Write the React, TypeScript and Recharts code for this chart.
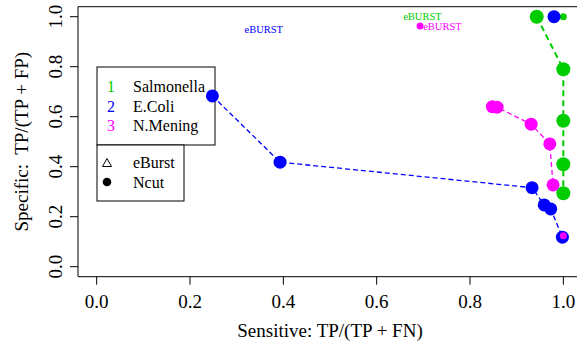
import React from 'react';
import { ScatterChart, Scatter, XAxis, YAxis, ReferenceArea, Customized } from 'recharts';

const FONT = '"Liberation Serif", "Times New Roman", serif';
const BLUE = '#0000FF';
const GREEN = '#00CD00';
const PINK = '#FF00FF';

const xTicks = [0, 0.2, 0.4, 0.6, 0.8, 1.0];
const yTicks = [0, 0.2, 0.4, 0.6, 0.8, 1.0];

// Ncut curves (connected by dashed lines)
const ecoliNcut = [
  { x: 0.248, y: 0.683 },
  { x: 0.393, y: 0.418 },
  { x: 0.933, y: 0.316 },
  { x: 0.959, y: 0.247 },
  { x: 0.973, y: 0.231 },
  { x: 0.998, y: 0.118 },
];
const salmNcut = [
  { x: 0.943, y: 1.0 },
  { x: 1.0, y: 0.79 },
  { x: 1.0, y: 0.584 },
  { x: 1.0, y: 0.41 },
  { x: 1.0, y: 0.294 },
];
const meningNcut = [
  { x: 0.848, y: 0.64 },
  { x: 0.858, y: 0.638 },
  { x: 0.931, y: 0.57 },
  { x: 0.971, y: 0.491 },
  { x: 0.978, y: 0.327 },
];
// single points
const ecoliSingle = [{ x: 0.98, y: 1.0 }];
const salmSmall = [{ x: 1.0, y: 1.0 }];
const meningSmall = [
  { x: 1.0, y: 0.124 },
  { x: 0.693, y: 0.963 },
];
// eBURST text labels
const eburstLabels = [
  { x: 0.698, y: 1.0, text: 'eBURST', color: GREEN },
  { x: 0.741, y: 0.963, text: 'eBURST', color: PINK },
  { x: 0.358, y: 0.95, text: 'eBURST', color: BLUE },
];

const groupNames = ['Salmonella', 'E.Coli', 'N.Mening'];
const groupColors = [GREEN, BLUE, PINK];
const methodNames = ['eBurst', 'Ncut'];

const dot = (r: number, fill: string) => (props: any) =>
  <circle cx={props.cx} cy={props.cy} r={r} fill={fill} />;

const labelShape = (props: any) => (
  <text x={props.cx} y={props.cy} dy="0.35em" textAnchor="middle" fontSize={10.5}
    fontFamily={FONT} fill={props.payload.color}>{props.payload.text}</text>
);

const XTick = (props: any) => (
  <text x={props.x} y={props.y + 21} textAnchor="middle" fontSize={19} fontFamily={FONT} fill="#000">
    {Number(props.payload.value).toFixed(1)}
  </text>
);

const YTick = (props: any) => {
  const bx = props.x - 8;
  return (
    <text x={bx} y={props.y} transform={`rotate(-90, ${bx}, ${props.y})`} textAnchor="middle"
      fontSize={19} fontFamily={FONT} fill="#000">
      {Number(props.payload.value).toFixed(1)}
    </text>
  );
};

const Decor = () => (
  <g fontFamily={FONT}>
    <text x={330} y={337} textAnchor="middle" fontSize={19} fill="#000">Sensitive: TP/(TP + FN)</text>
    <text x={28} y={141.7} transform="rotate(-90, 28, 141.7)" textAnchor="middle" fontSize={19}
      fill="#000" style={{ whiteSpace: 'pre' }}>{'Specific:  TP/(TP + FP)'}</text>
    <rect x={97} y={67} width={118} height={78} fill="#fff" stroke="#000" strokeWidth={1} />
    {groupNames.map((n, i) => (
      <g key={n}>
        <text x={111} y={92 + i * 19.5} textAnchor="middle" fontSize={16} fill={groupColors[i]}>{i + 1}</text>
        <text x={133} y={92 + i * 19.5} fontSize={16} fill="#000">{n}</text>
      </g>
    ))}
    <rect x={97} y={145} width={87} height={56} fill="#fff" stroke="#000" strokeWidth={1} />
    <polygon points="107,158.5 102.5,166.5 111.5,166.5" fill="none" stroke="#000" strokeWidth={1} />
    <circle cx={107} cy={182} r={4.3} fill="#000" />
    <text x={133} y={168} fontSize={16} fill="#000">{methodNames[0]}</text>
    <text x={133} y={187.5} fontSize={16} fill="#000">{methodNames[1]}</text>
  </g>
);

export default function App() {
  return (
    <div style={{ position: 'absolute', left: 0, top: 0, width: 577, height: 345, overflow: 'hidden', background: '#fff' }}>
      <ScatterChart width={600} height={345} margin={{ top: 6.7, right: 18, bottom: 0, left: 0 }}>
        <XAxis type="number" dataKey="x" domain={[-0.04, 1.04]} ticks={xTicks} allowDataOverflow
          axisLine={false} tickLine={{ stroke: '#000' }} tickSize={8} tickMargin={2} height={68.3}
          tick={XTick} interval={0} />
        <YAxis type="number" dataKey="y" domain={[-0.04, 1.04]} ticks={yTicks} allowDataOverflow
          axisLine={false} tickLine={{ stroke: '#000' }} tickSize={8} tickMargin={0} width={78}
          tick={YTick} interval={0} />
        <Customized component={Decor} />
        <ReferenceArea x1={-0.04} x2={1.04} y1={-0.04} y2={1.04} fill="none" fillOpacity={0}
          stroke="#000" strokeWidth={1} ifOverflow="visible" />
        <Scatter data={salmNcut} isAnimationActive={false} shape={dot(7, GREEN)}
          line={{ stroke: GREEN, strokeWidth: 2, strokeDasharray: '6 4' }} />
        <Scatter data={salmSmall} isAnimationActive={false} shape={dot(3.5, GREEN)} />
        <Scatter data={ecoliNcut} isAnimationActive={false} shape={dot(6.5, BLUE)}
          line={{ stroke: BLUE, strokeWidth: 1.3, strokeDasharray: '5 3' }} />
        <Scatter data={ecoliSingle} isAnimationActive={false} shape={dot(6.5, BLUE)} />
        <Scatter data={meningNcut} isAnimationActive={false} shape={dot(6.5, PINK)}
          line={{ stroke: PINK, strokeWidth: 1.3, strokeDasharray: '5 3' }} />
        <Scatter data={meningSmall} isAnimationActive={false} shape={dot(3.5, PINK)} />
        <Scatter data={eburstLabels} isAnimationActive={false} shape={labelShape} />
      </ScatterChart>
    </div>
  );
}
